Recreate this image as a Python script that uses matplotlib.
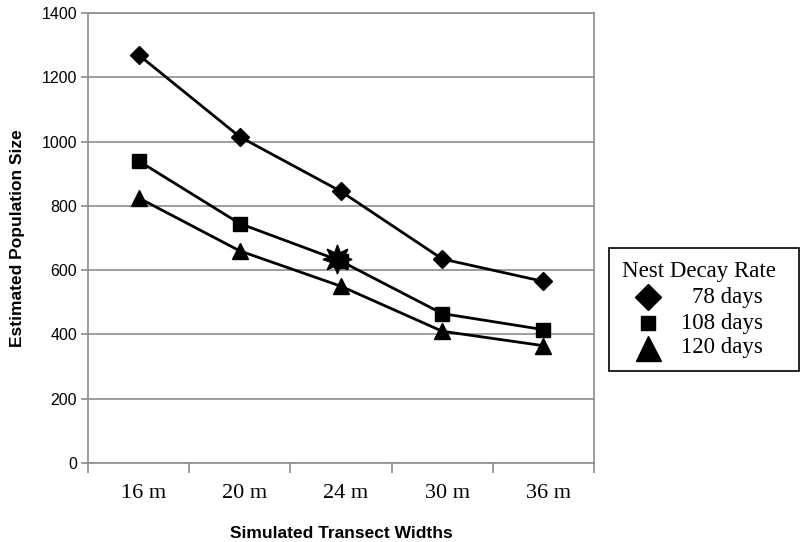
import matplotlib
matplotlib.use("Agg")
import matplotlib.pyplot as plt
from matplotlib.lines import Line2D
from matplotlib.patches import Rectangle
from matplotlib.transforms import ScaledTranslation
import numpy as np

categories = ["16 m", "20 m", "24 m", "30 m", "36 m"]
series_names = ["78 days", "108 days", "120 days"]
days78 = [1270, 1015, 845, 635, 565]
days108 = [940, 745, 628, 465, 415]
days120 = [825, 660, 550, 410, 365]
star_value = 636  # highlighted point (108 days, 24 m)
yticks = [0, 200, 400, 600, 800, 1000, 1200, 1400]

W, H = 800, 542
fig = plt.figure(figsize=(W / 100, H / 100), dpi=100)
ax = fig.add_axes([0.11, 0.1458, 0.6325, 0.83])

x = np.arange(len(categories))
grid_col = "#8c8c8c"
markers = ["D", "s", "^"]
plot_ms = [9.5, 9.5, 12]
series = [days78, days108, days120]

for vals, m, ms in zip(series, markers, plot_ms):
    ax.plot(x, vals, color="black", lw=2, marker=m, ms=ms, zorder=3)
ax.plot([x[2] - 0.04], [star_value], marker=(8, 1, 0), ms=21, color="black", zorder=4, ls="none")

ax.set_xlim(-0.5, len(categories) - 0.5)
ax.set_ylim(0, 1400)
ax.set_yticks(yticks)
ax.set_yticklabels([str(v) for v in yticks], fontfamily="Liberation Sans", fontsize=11.5)
ax.yaxis.grid(True, color=grid_col, lw=1.2)
ax.set_axisbelow(True)

ax.set_xticks(np.arange(-0.5, len(categories), 1.0))
ax.set_xticklabels([])
ax.set_xticks(x, minor=True)
ax.set_xticklabels(categories, minor=True, fontfamily="Liberation Serif", fontsize=16)
ax.tick_params(axis="x", which="major", length=7, color=grid_col, width=1.2, direction="out")
ax.tick_params(axis="x", which="minor", length=0, pad=15)
ax.tick_params(axis="y", length=5, color=grid_col, width=1.2, pad=3)
for lab in ax.get_xticklabels(minor=True):
    lab.set_transform(lab.get_transform() + ScaledTranslation(0.05, 0, fig.dpi_scale_trans))

for s in ax.spines.values():
    s.set_color(grid_col)
    s.set_linewidth(1.2)

ax.set_xlabel("Simulated Transect Widths", fontfamily="Liberation Sans", fontweight="bold", fontsize=12.5, labelpad=17)
ax.set_ylabel("Estimated Population Size", fontfamily="Liberation Sans", fontweight="bold", fontsize=12.5, labelpad=12)

# manual legend (pixel layout converted to figure fraction)
def fx(px):
    return px / W

def fy(py):
    return 1 - py / H

fig.patches.append(Rectangle((fx(609), fy(371)), fx(799) - fx(609), fy(248) - fy(371),
                             transform=fig.transFigure, facecolor="white",
                             edgecolor="black", lw=1.2, zorder=5))
serif = {"family": "Liberation Serif", "size": 16.5}
fig.text(fx(622), fy(271), "Nest Decay Rate", ha="left", va="center", fontdict=serif, zorder=6)
leg_ms = [13, 10.5, 18]
row_y = [297, 323, 348]
for name, m, ms, ry in zip(series_names, markers, leg_ms, row_y):
    fig.add_artist(Line2D([fx(648)], [fy(ry)], marker=m, ms=ms, color="black", ls="none",
                          transform=fig.transFigure, zorder=6))
    fig.text(fx(763), fy(ry), name, ha="right", va="center", fontdict=serif, zorder=6)

fig.savefig("out.png", dpi=100)
